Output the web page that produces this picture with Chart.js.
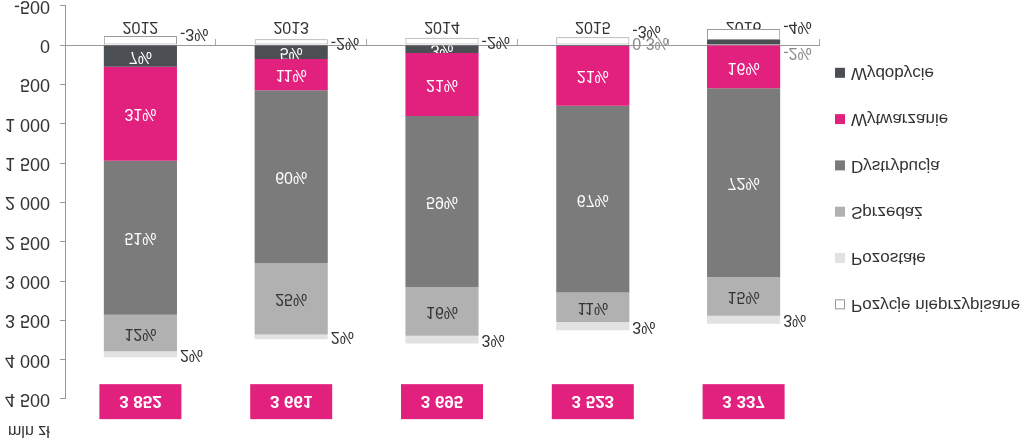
<!DOCTYPE html>
<html>
<head>
<meta charset="utf-8">
<script src="https://cdn.jsdelivr.net/npm/chart.js@4"></script>
<style>
  html, body { margin: 0; padding: 0; background: #fff; overflow: hidden; width: 1024px; height: 439px; }
  #wrap { position: absolute; left: 0; top: -15px; width: 1024px; height: 465px; }
  /* the reference is drawn upside down, so the whole canvas is mirrored vertically */
  #chart { transform: scaleY(-1); }
</style>
</head>
<body>
<div id="wrap"><canvas id="chart"></canvas></div>
<script>
const years = ["2012", "2013", "2014", "2015", "2016"];
const totals = ["3 852", "3 661", "3 695", "3 523", "3 337"];

// mln zł
const wydobycie = [275, 175, 100, 10, -65];
const wytwarzanie = [1195, 400, 800, 760, 550];
const dystrybucja = [1960, 2195, 2180, 2375, 2402];
const sprzedaz = [462, 910, 615, 375, 490];
const pozostale = [76, 60, 100, 105, 100];
const nieprzypisane = [-116, -75, -95, -100, -140];

// percentage labels as printed on the chart
const wydobyciePct = ["7%", "5%", "3%", "0,3%", "-2%"];
const wytwarzaniePct = ["31%", "11%", "21%", "21%", "16%"];
const dystrybucjaPct = ["51%", "60%", "59%", "67%", "72%"];
const sprzedazPct = ["12%", "25%", "16%", "11%", "15%"];
const pozostalePct = ["2%", "2%", "3%", "3%", "3%"];
const nieprzypisanePct = ["-3%", "-2%", "-2%", "-3%", "-4%"];

const FONT = '"Liberation Sans", Arial, sans-serif';
const totalsLevel = 4540;

// small hand shifts of a few crowded labels, "dataset-point": px (screen, + = down)
const labelShift = { "5-0": -7, "5-3": -11, "5-4": -8, "0-4": 10, "0-3": -3 };

const segLabels = {
  id: "segLabels",
  afterDatasetsDraw(chart) {
    const ctx = chart.ctx;
    const area = chart.chartArea;
    ctx.save();
    ctx.textBaseline = "middle";
    ctx.font = `16px ${FONT}`;

    chart.data.datasets.forEach((ds, i) => {
      chart.getDatasetMeta(i).data.forEach((bar, j) => {
        const txt = ds.pct[j];
        const top = Math.min(bar.y, bar.base);
        const h = Math.abs(bar.base - bar.y);
        // canvas is mirrored, so a screen shift down is a canvas shift up
        const cy = top + h / 2 - (labelShift[`${i}-${j}`] || 0);
        if (ds.outside || h < 7) {
          ctx.textAlign = "left";
          ctx.fillStyle = ds.outside ? "#333" : "#8a8a8a";
          ctx.fillText(txt, bar.x + bar.width / 2 + 3, cy);
        } else {
          ctx.save();
          ctx.beginPath();
          ctx.rect(bar.x - bar.width / 2, top, bar.width, h);
          ctx.clip();
          ctx.textAlign = "center";
          ctx.fillStyle = ds.labelColor;
          ctx.fillText(txt, bar.x, cy);
          ctx.restore();
        }
      });
    });

    // totals boxes
    const xs = chart.scales.x, ys = chart.scales.y;
    const yc = ys.getPixelForValue(totalsLevel);
    totals.forEach((t, j) => {
      const x = xs.getPixelForValue(j);
      ctx.fillStyle = "#e2217f";
      ctx.fillRect(x - 41, yc - 17, 82, 35);
      ctx.fillStyle = "#fff";
      ctx.font = `bold 17px ${FONT}`;
      ctx.textAlign = "center";
      ctx.fillText(t, x, yc + 1);
    });

    // unit
    ctx.font = `16px ${FONT}`;
    ctx.fillStyle = "#333";
    ctx.textAlign = "left";
    ctx.fillText("mln zł", 8, area.top - 31);

    // legend
    ctx.font = `17px ${FONT}`;
    chart.data.datasets.forEach((ds, i) => {
      const y = area.bottom - 67 - i * 46.3;
      const x = area.right + 16;
      ctx.fillStyle = ds.backgroundColor;
      ctx.fillRect(x, y - 5, 10, 10);
      if (ds.borderWidth) {
        ctx.strokeStyle = "#999";
        ctx.lineWidth = 1;
        ctx.strokeRect(x + 0.5, y - 4.5, 9, 9);
      }
      ctx.fillStyle = "#333";
      ctx.fillText(ds.label, x + 16, y);
    });
    ctx.restore();
  },
};

const fmtThousands = (v) => String(v).replace(/\B(?=(\d{3})+(?!\d))/g, " ");

new Chart(document.getElementById("chart"), {
  type: "bar",
  data: {
    labels: years,
    datasets: [
      { label: "Wydobycie", data: wydobycie, pct: wydobyciePct, backgroundColor: "#4b4e52", labelColor: "#fff" },
      { label: "Wytwarzanie", data: wytwarzanie, pct: wytwarzaniePct, backgroundColor: "#e2217f", labelColor: "#fff" },
      { label: "Dystrybucja", data: dystrybucja, pct: dystrybucjaPct, backgroundColor: "#7b7b7b", labelColor: "#fff" },
      { label: "Sprzedaż", data: sprzedaz, pct: sprzedazPct, backgroundColor: "#b1b1b1", labelColor: "#333" },
      { label: "Pozostałe", data: pozostale, pct: pozostalePct, backgroundColor: "#e2e2e2", outside: true },
      { label: "Pozycje nieprzypisane", data: nieprzypisane, pct: nieprzypisanePct, backgroundColor: "#ffffff",
        borderColor: "#9a9a9a", borderWidth: 1, borderSkipped: false, outside: true },
    ],
  },
  options: {
    responsive: true,
    maintainAspectRatio: false,
    animation: false,
    barPercentage: 0.485,
    categoryPercentage: 1,
    layout: { padding: { top: 51, bottom: 12, left: 0, right: 205 } },
    plugins: { legend: { display: false }, tooltip: { enabled: false } },
    scales: {
      x: {
        stacked: true,
        position: { y: 0 },
        z: 1,
        grid: { display: true, drawOnChartArea: false, tickLength: 6, color: "#aaa", offset: true },
        border: { color: "#999" },
        ticks: { color: "#333", font: { size: 16, family: FONT }, padding: 3 },
      },
      y: {
        stacked: true,
        min: -500,
        max: 4500,
        afterFit(scale) { scale.width = 65; },
        grid: { display: true, drawOnChartArea: false, tickLength: 5, color: "#999" },
        border: { color: "#999" },
        ticks: {
          stepSize: 500,
          color: "#333",
          padding: 10,
          font: { size: 18, family: FONT },
          callback: (v) => fmtThousands(v),
        },
      },
    },
  },
  plugins: [segLabels],
});
</script>
</body>
</html>
